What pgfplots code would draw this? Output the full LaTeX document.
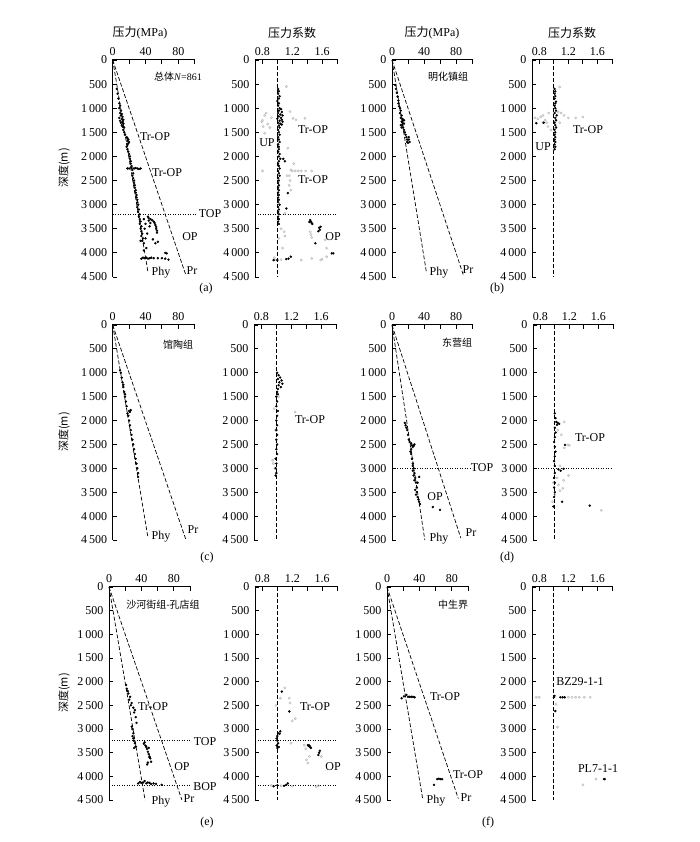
\documentclass[border=0pt]{standalone}
\usepackage{fontspec}
\setmainfont{Liberation Serif}
\newfontfamily\cjk{Noto Sans CJK SC}
\usepackage{pgfplots}
\pgfplotsset{compat=1.18}
\usetikzlibrary{calc}
\pgfplotsset{
 base/.style={scale only axis, y dir=reverse, ymin=0, ymax=4500,
   axis x line*=top, axis y line*=left, axis line style={line width=1pt, draw=black},
   ytick={0,500,1000,1500,2000,2500,3000,3500,4000,4500},
   yticklabels={0,500,1\,000,1\,500,2\,000,2\,500,3\,000,3\,500,4\,000,4\,500},
   major tick length=0pt,
   tick label style={font=\fontsize{12}{14}\selectfont},
   xticklabel style={yshift=1pt}, yticklabel style={xshift=-2pt},
   /pgf/number format/assume math mode=true,
   clip=false, anchor=north west},
 pres/.style={base, xmin=0, xmax=100, xtick={0,20,40,60,80,100}, xticklabels={0,,40,,80,}},
 coef/.style={base, xmin=0.7, xmax=1.8, xtick={0.8,1.0,1.2,1.4,1.6,1.8}, xticklabels={0.8,,1.2,,1.6,}},
 blk/.style={only marks, mark=*, mark size=1.0pt, black},
 gry/.style={only marks, mark=o, mark size=1.1pt, gray!55, mark options={line width=0.5pt}},
 ref/.style={black, dash pattern=on 4pt off 2pt, line width=0.7pt},
 hl/.style={black, dash pattern=on 1pt off 1.5pt, line width=0.7pt},
}
\newcommand{\Lb}[3]{\node[font=\fontsize{12}{14}\selectfont, inner sep=0pt] at ({#1pt},{842pt-#2pt}) {#3};}
\newcommand{\Lc}[3]{\node[font=\fontsize{10}{12}\selectfont, inner sep=0pt] at ({#1pt},{842pt-#2pt}) {#3};}
\begin{document}
\begin{tikzpicture}
\path[use as bounding box] (0pt,0pt) rectangle (700pt,842pt);

% ---------------- (a) pressure
\begin{axis}[pres, name=P1, at={(112.7pt,782pt)}, width=82pt, height=217pt]
\addplot[ref] coordinates {(0,0) (43,4400)};
\addplot[ref] coordinates {(0,0) (89,4450)};
\addplot[hl] coordinates {(0,3200) (103,3200)};
\addplot[blk] coordinates {(5,600) (6,700) (7,800) (8,900) (9,950) (8,1000) (10,1050) (9,1100) (11,1120) (10,1150) (12,1180) (8,1200) (11,1220) (13,1240) (9,1260) (12,1280) (10,1300) (13,1320) (11,1350) (12,1380) (14,1400) (13,1450) (14,1500) (15,1550) (17,1600) (18,1620) (19,1650) (18,1680) (20,1700) (19,1730) (18,1760) (17,1800) (18,1850) (19,1900) (20,1950) (21,2000) (21,2050) (22,2100) (22,2150) (23,2200) (24,2280) (25,2350) (24,2400) (25,2450) (26,2500) (26,2550) (27,2600) (27,2650) (28,2700) (28,2750) (29,2800) (29,2850) (30,2900) (30,2950) (31,3000) (30,3050) (32,3100) (31,3150) (33,3200) (32,3250) (33,3300) (34,3350) (33,3400) (35,3450) (34,3500) (35,3550) (36,3600) (35,3650) (37,3700) (36,3750) (38,3800) (34,3750)
(18,2250) (20,2250) (23,2240) (26,2250) (28,2240) (30,2250) (32,2260) (34,2250)
(43,3250) (44,3280) (46,3300) (48,3320) (50,3350) (51,3380) (52,3420) (53,3460) (53,3500) (54,3540) (54,3580) (44,3330) (46,3380) (45,3450) (49,3720) (52,3800) (55,3770) (64,4000) (66,4010) (68,4140)
(35,4120) (37,4100) (39,4110) (41,4100) (43,4120) (45,4110) (47,4100) (50,4110) (55,4110) (60,4110) (64,4120)
(38,3300) (40,3400) (39,3500) (42,3600) (40,3700) (41,3900) (38,3950)};
\end{axis}

% ---------------- (a) coefficient
\begin{axis}[coef, name=C1, at={(255pt,782pt)}, width=82pt, height=217pt]
\addplot[ref] coordinates {(1,0) (1,4500)};
\addplot[hl] coordinates {(0.7,3200) (1.8,3200)};
\addplot[gry] coordinates {(0.79,1280) (0.80,1250) (0.83,1150) (0.85,1100) (0.81,1380) (0.83,1520) (0.87,1330) (0.90,1400) (0.92,1200) (1.17,1070) (1.21,1210) (1.37,1210) (1.25,1240) (1.12,550) (1.14,1830) (1.18,2280) (1.20,2300) (1.24,2300) (1.28,2300) (1.32,2300) (1.38,2300) (1.46,2300) (0.80,2300) (1.16,2400) (1.17,2500) (1.16,2600) (1.18,2700) (1.10,3180) (1.09,3560) (1.10,3650) (1.44,3560) (1.45,3620) (1.46,3680) (1.64,3730) (1.66,3900) (1.66,4080) (0.98,4150) (1.05,4140) (1.32,4150) (1.46,4115) (1.58,4150) (1.60,4130) (1.22,2150) (1.13,2400) (1.05,3500) (1.07,3900) (1.02,3700) (0.96,4100)};
\addplot[blk] coordinates {(1.01,600) (1.02,650) (1.01,700) (1.03,750) (1.02,800) (1.00,850) (1.02,900) (1.01,950) (1.03,1000) (1.05,1020) (1.02,1050) (1.06,1080) (1.01,1100) (1.04,1130) (1.07,1150) (1.02,1170) (1.05,1200) (1.00,1220) (1.06,1240) (1.03,1260) (1.07,1280) (1.01,1300) (1.04,1320) (1.06,1340) (1.02,1360) (1.03,1400) (1.01,1450) (1.02,1500) (1.03,1550) (1.01,1600) (1.02,1650) (1.03,1700) (1.01,1750) (1.02,1800) (1.02,1850) (1.01,1900) (1.03,1950) (1.02,2000) (1.04,2050) (1.02,2100) (1.01,2150) (1.02,2200) (1.03,2250) (1.01,2300) (1.02,2350) (1.03,2400) (1.01,2450) (1.02,2500) (1.01,2550) (1.02,2600) (1.01,2650) (1.02,2700) (1.01,2750) (1.02,2800) (1.01,2850) (1.02,2900) (1.01,2950) (1.03,3000) (1.01,3050) (1.02,3100) (1.01,3150) (1.02,3200) (1.01,3250) (1.02,3300) (1.01,3350) (1.02,3400)
(1.12,3080) (1.14,2760) (1.10,2100) (1.08,2050) (1.44,3320) (1.45,3350) (1.46,3380) (1.47,3400) (1.43,3360) (1.56,3480) (1.57,3520) (1.58,3460) (1.55,3550) (1.51,3800) (1.73,4010) (1.75,4010) (0.95,4150) (1.12,4130) (1.15,4120) (1.18,4080) (1.00,4150)};
\end{axis}

% ---------------- (b) pressure
\begin{axis}[pres, name=P2, at={(392pt,782pt)}, width=80pt, height=217pt]
\addplot[ref] coordinates {(0,0) (43,4400)};
\addplot[ref] coordinates {(0,0) (89,4450)};
\addplot[blk] coordinates {(4,520) (5,600) (6,680) (7,760) (8,840) (8,900) (9,960) (10,1000) (11,1050) (10,1100) (12,1150) (11,1200) (13,1220) (14,1250) (12,1280) (13,1300) (15,1320) (13,1350) (14,1400) (15,1450) (16,1500) (17,1550) (18,1600) (19,1650) (19,1700) (20,1720) (21,1600) (21,1650) (22,1700) (11,1350) (12,1400) (15,1250)};
\end{axis}

% ---------------- (b) coefficient
\begin{axis}[coef, name=C2, at={(532pt,782pt)}, width=80pt, height=217pt]
\addplot[ref] coordinates {(1,0) (1,4500)};
\addplot[gry] coordinates {(1.08,560) (0.74,1200) (0.78,1220) (0.82,1180) (0.85,1150) (0.88,1250) (0.90,1300) (0.93,1100) (0.85,1300) (0.92,1380) (1.06,1080) (1.10,1100) (1.14,1150) (1.20,1200) (1.30,1200) (1.40,1180) (1.08,1300) (0.96,1450)};
\addplot[blk] coordinates {(1.01,600) (1.02,650) (1.01,700) (1.02,750) (1.01,800) (1.03,865) (1.02,900) (1.01,950) (1.02,1000) (1.03,1050) (1.01,1100) (1.04,1150) (1.02,1200) (1.03,1250) (1.01,1300) (1.02,1350) (1.03,1400) (1.01,1450) (1.02,1500) (1.01,1550) (1.02,1600) (1.01,1650) (1.02,1700) (1.01,1750) (1.02,1800) (1.01,1850) (0.76,1310) (0.86,1300)};
\end{axis}

% ---------------- (c) pressure
\begin{axis}[pres, name=P3, at={(112.7pt,517pt)}, width=82pt, height=215pt]
\addplot[ref] coordinates {(0,0) (43,4450)};
\addplot[ref] coordinates {(0,0) (89,4480)};
\addplot[blk] coordinates {(9,950) (10,1000) (11,1100) (12,1200) (13,1300) (14,1400) (15,1500) (16,1600) (17,1700) (22,1780) (21,1820) (18,1850) (19,1900) (20,2000) (21,2100) (22,2200) (23,2300) (24,2400) (25,2500) (26,2600) (27,2700) (28,2800) (29,2900) (30,3000) (31,3100) (31,3180) (13,1250) (15,1450) (20,1800)};
\end{axis}

% ---------------- (c) coefficient
\begin{axis}[coef, name=C3, at={(254pt,517pt)}, width=82pt, height=215pt]
\addplot[ref] coordinates {(1,0) (1,4500)};
\addplot[gry] coordinates {(1.25,1820) (0.95,2830) (0.97,1750) (0.96,2900) (0.98,3000) (1.03,1500) (0.99,2200)};
\addplot[blk] coordinates {(1.01,1000) (1.03,1050) (1.05,1100) (1.02,1130) (1.07,1160) (1.04,1200) (1.08,1230) (1.03,1260) (1.06,1300) (1.02,1340) (1.01,1400) (1.02,1450) (1.00,1500) (1.01,1600) (1.00,1700) (1.02,1800) (1.01,1900) (1.00,2000) (1.01,2100) (1.00,2200) (1.01,2300) (1.00,2400) (1.01,2500) (1.00,2600) (1.01,2700) (0.99,2800) (1.00,2900) (0.99,3000) (1.00,3100) (0.99,3150)};
\end{axis}

% ---------------- (d) pressure
\begin{axis}[pres, name=P4, at={(392pt,517pt)}, width=80pt, height=215pt]
\addplot[ref] coordinates {(0,0) (41,4500)};
\addplot[ref] coordinates {(0,0) (86,4460)};
\addplot[hl] coordinates {(0,3000) (100,3000)};
\addplot[blk] coordinates {(16,2050) (17,2100) (18,2150) (19,2200) (20,2300) (21,2400) (22,2450) (24,2480) (25,2520) (26,2550) (24,2600) (23,2650) (24,2700) (25,2800) (26,2900) (26,2950) (27,3000) (26,3050) (28,3100) (27,3150) (29,3200) (28,3250) (30,3300) (31,3400) (29,3450) (31,3500) (30,3550) (32,3600) (33,3650) (34,3700) (35,3750) (34,3180) (32,3300) (51,3810) (60,3870) (27,2530) (28,2500)};
\end{axis}

% ---------------- (d) coefficient
\begin{axis}[coef, name=C4, at={(533pt,517pt)}, width=80pt, height=215pt]
\addplot[ref] coordinates {(1,0) (1,4500)};
\addplot[hl] coordinates {(0.7,3000) (1.8,3000)};
\addplot[gry] coordinates {(1.13,2030) (1.09,2300) (1.04,2200) (1.18,2510) (1.20,2520) (1.07,2950) (1.19,3150) (1.12,3250) (1.11,3420) (1.07,3470) (1.00,3550) (0.97,3700) (1.64,3880) (1.03,3200) (0.98,3300) (1.05,3350) (1.13,2570)};
\addplot[blk] coordinates {(1.00,1850) (1.01,1950) (1.02,2030) (1.04,2050) (1.06,2070) (1.03,2090) (1.00,2150) (1.01,2250) (1.00,2350) (0.99,2450) (1.00,2550) (1.01,2650) (1.00,2750) (0.99,2850) (1.00,2950) (1.05,3020) (1.08,3050) (1.00,3100) (0.99,3200) (1.00,3300) (0.99,3400) (1.00,3500) (0.99,3600) (0.98,3800) (1.14,2510) (1.12,3010) (1.10,3700) (1.48,3780)};
\end{axis}

% ---------------- (e) pressure
\begin{axis}[pres, name=P5, at={(109pt,255pt)}, width=81pt, height=213pt]
\addplot[ref] coordinates {(0,0) (44.5,4500)};
\addplot[ref] coordinates {(0,0) (90,4500)};
\addplot[hl] coordinates {(0,3250) (100,3250)};
\addplot[hl] coordinates {(0,4200) (100,4200)};
\addplot[blk] coordinates {(21,2070) (22,2150) (23,2200) (24,2250) (26,2320) (25,2380) (28,2450) (27,2500) (30,2550) (32,2600) (31,2650) (33,2750) (34,2870) (28,2950) (29,3000) (30,3090) (29,3150) (30,3200) (31,3250) (32,3300) (33,3370) (31,3400)
(43,3310) (44,3280) (45,3350) (46,3380) (47,3420) (48,3480) (49,3530) (50,3580) (51,3620) (52,3690) (50,3600) (48,3710) (47,3750) (49,3400)
(38,4120) (40,4140) (42,4130) (44,4100) (46,4150) (48,4130) (50,4140) (52,4160) (55,4150) (58,4160) (65,4180) (36,4150)};
\end{axis}

% ---------------- (e) coefficient
\begin{axis}[coef, name=C5, at={(255pt,255pt)}, width=82pt, height=213pt]
\addplot[ref] coordinates {(1,0) (1,4500)};
\addplot[hl] coordinates {(0.7,3250) (1.8,3250)};
\addplot[hl] coordinates {(0.7,4200) (1.8,4200)};
\addplot[gry] coordinates {(1.10,2130) (1.04,2350) (1.16,2350) (1.17,2450) (1.20,2830) (1.24,2780) (1.18,3300) (1.36,3340) (1.39,3650) (1.43,3580) (1.41,3720) (1.59,3580) (1.55,4200) (1.52,4220) (0.92,4190) (1.05,4200) (1.20,4210) (0.98,2500) (1.38,3420)};
\addplot[blk] coordinates {(1.06,2210) (1.16,2630) (1.01,3090) (1.00,3150) (0.99,3200) (1.00,3250) (1.01,3300) (0.99,3350) (1.02,3380) (1.00,3400) (1.03,3100) (1.04,3050) (1.41,3340) (1.42,3360) (1.44,3380) (1.45,3400) (1.43,3350) (1.55,3550) (1.56,3500) (1.57,3460) (1.12,4180) (1.14,4150) (1.09,4200) (1.00,4190) (0.95,4210)};
\end{axis}

% ---------------- (f) pressure
\begin{axis}[pres, name=P6, at={(387pt,255pt)}, width=81pt, height=213pt]
\addplot[ref] coordinates {(0,0) (44,4470)};
\addplot[ref] coordinates {(0,0) (88,4470)};
\addplot[blk] coordinates {(18,2350) (24,2280) (26,2320) (28,2320) (30,2320) (32,2320) (34,2330) (21,2310) (62,4060) (64,4050) (66,4060) (68,4060) (58,4180)};
\end{axis}

% ---------------- (f) coefficient
\begin{axis}[coef, name=C6, at={(532pt,255pt)}, width=80pt, height=213pt]
\addplot[ref] coordinates {(1,0) (1,4500)};
\addplot[gry] coordinates {(0.76,2330) (0.80,2330) (1.20,2330) (1.25,2330) (1.30,2330) (1.35,2330) (1.42,2330) (1.50,2330) (1.03,2480) (1.05,2960) (1.58,4060) (1.40,4180)};
\addplot[blk] coordinates {(1.00,2330) (1.09,2330) (1.12,2330) (1.15,2330) (1.02,2620) (1.69,4060) (1.70,4060) (1.01,2300)};
\end{axis}

% ---------------- frames and ticks as thin filled bars
\foreach \nm in {P1,P2,P3,P4,P5,P6,C1,C2,C3,C4,C5,C6}{
  \fill[black] ($(\nm.south west)+(-0.5pt,0pt)$) rectangle ($(\nm.north west)+(0.5pt,0.5pt)$);
  \fill[black] ($(\nm.north west)+(-0.5pt,-0.5pt)$) rectangle ($(\nm.north east)+(0.5pt,0.5pt)$);
  \foreach \kk in {0,...,9}{
    \fill[black] ($(\nm.north west)!{\kk/9}!(\nm.south west)+(0pt,-0.45pt)$) rectangle ++(4pt,0.9pt);
  }
}
\foreach \nm in {P1,P2,P3,P4,P5,P6}{
  \foreach \kk in {0,...,5}{
    \fill[black] ($(\nm.north west)!{\kk/5}!(\nm.north east)+(-0.45pt,0pt)$) rectangle ++(0.9pt,-4pt);
  }
}
\foreach \nm in {C1,C2,C3,C4,C5,C6}{
  \foreach \kk in {1,...,6}{
    \fill[black] ($(\nm.north west)!{(\kk*0.2-0.1)/1.1}!(\nm.north east)+(-0.45pt,0pt)$) rectangle ++(0.9pt,-4pt);
  }
}

% ---------------- titles and labels
\Lb{140}{33}{{\cjk 压力}(MPa)}
\Lb{292}{33}{\cjk 压力系数}
\Lb{432}{33}{{\cjk 压力}(MPa)}
\Lb{572}{33}{\cjk 压力系数}
\node[font=\cjk\fontsize{11}{13}\selectfont, rotate=90] at (64pt,{842pt-168pt}) {深度(m)};
\node[font=\cjk\fontsize{11}{13}\selectfont, rotate=90] at (64pt,{842pt-432pt}) {深度(m)};
\node[font=\cjk\fontsize{11}{13}\selectfont, rotate=90] at (64pt,{842pt-693pt}) {深度(m)};
% (a)
\Lc{178}{77}{{\cjk 总体}\textit{N}=861}
\Lb{155}{137}{Tr-OP}
\Lb{167}{173}{Tr-OP}
\Lb{210}{214}{TOP}
\Lb{190}{237}{OP}
\Lb{161}{273}{Phy}
\Lb{192}{271}{Pr}
\Lb{206}{289}{(a)}
\Lb{267}{143}{UP}
\Lb{313}{130}{Tr-OP}
\Lb{313}{180}{Tr-OP}
\Lb{333}{237}{OP}
% (b)
\Lc{448}{77}{\cjk 明化镇组}
\Lb{439}{273}{Phy}
\Lb{468}{270}{Pr}
\Lb{497}{289}{(b)}
\Lb{588}{130}{Tr-OP}
\Lb{543}{147}{UP}
% (c)
\Lc{178}{345}{\cjk 馆陶组}
\Lb{161}{537}{Phy}
\Lb{193}{530}{Pr}
\Lb{207}{558}{(c)}
\Lb{310}{420}{Tr-OP}
% (d)
\Lc{457}{343}{\cjk 东营组}
\Lb{482}{468}{TOP}
\Lb{435}{497}{OP}
\Lb{439}{539}{Phy}
\Lb{471}{533}{Pr}
\Lb{507}{558}{(d)}
\Lb{590}{438}{Tr-OP}
% (e)
\Lc{163}{605}{\cjk 沙河街组-孔店组}
\Lb{153}{707}{Tr-OP}
\Lb{205}{742}{TOP}
\Lb{182}{767}{OP}
\Lb{205}{787}{BOP}
\Lb{161}{802}{Phy}
\Lb{189}{799}{Pr}
\Lb{207}{823}{(e)}
\Lb{315}{707}{Tr-OP}
\Lb{333}{767}{OP}
% (f)
\Lc{453}{605}{\cjk 中生界}
\Lb{445}{697}{Tr-OP}
\Lb{468}{775}{Tr-OP}
\Lb{436}{801}{Phy}
\Lb{466}{798}{Pr}
\Lb{488}{823}{(f)}
\Lb{580}{682}{BZ29-1-1}
\Lb{598}{769}{PL7-1-1}
\end{tikzpicture}
\end{document}
